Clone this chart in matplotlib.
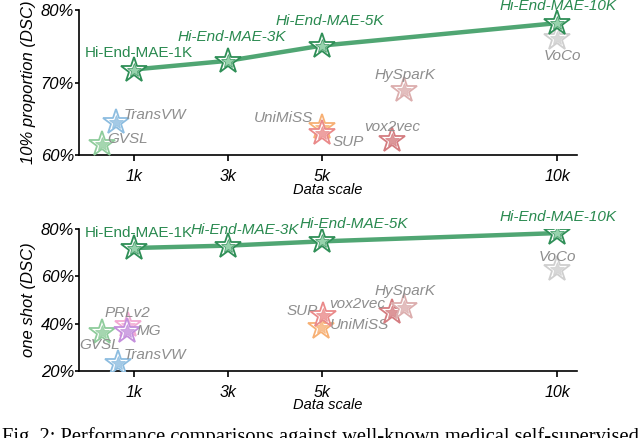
import matplotlib.pyplot as plt
from matplotlib.ticker import FuncFormatter

# Hi-End-MAE series (data scale in thousands)
ours_scale = [1, 3, 5, 10]
ours_names = ["Hi-End-MAE-1K", "Hi-End-MAE-3K", "Hi-End-MAE-5K", "Hi-End-MAE-10K"]
ours_top = [71.8, 73.0, 75.1, 78.2]
ours_bottom = [72.0, 73.0, 74.8, 78.3]

# baselines: name, scale, value
top_names = ["TransVW", "GVSL", "UniMiSS", "SUP", "vox2vec", "HySparK", "VoCo"]
top_scale = [0.62, 0.32, 5.0, 5.0, 6.5, 6.75, 10.0]
top_vals = [64.6, 61.5, 63.9, 63.0, 62.1, 69.0, 76.1]

bot_names = ["TransVW", "GVSL", "PRLv2", "MG", "UniMiSS", "SUP", "vox2vec", "HySparK", "VoCo"]
bot_scale = [0.66, 0.32, 0.87, 0.85, 4.98, 5.02, 6.5, 6.75, 10.0]
bot_vals = [23.5, 36.5, 39.5, 37.0, 38.7, 43.5, 45.0, 47.0, 63.1]

colors = {
    "TransVW": "#8dbde0", "GVSL": "#8fcc9c", "PRLv2": "#f2a9d2", "MG": "#c48fdc",
    "UniMiSS": "#f7b074", "SUP": "#ea8a8a", "vox2vec": "#d47c80",
    "HySparK": "#dcaeae", "VoCo": "#cfcfcf",
}

# label offsets (pixels) from each star
ours_off_top = [(5, 17), (4, 24), (8, 25), (1, 17)]
ours_off_bot = [(5, 15), (17, 16), (32, 17), (1, 16)]
top_off = {"TransVW": (39, 7), "GVSL": (26, 5), "UniMiSS": (-38, 9), "SUP": (26, -9),
           "vox2vec": (0, 13), "HySparK": (1, 15), "VoCo": (5, -18)}
bot_off = {"TransVW": (37, 8), "GVSL": (-2, -13), "PRLv2": (0, 12), "MG": (22, 0),
           "UniMiSS": (39, 2), "SUP": (-21, 4), "vox2vec": (-35, 8), "HySparK": (1, 16),
           "VoCo": (0, 12)}

plt.rcParams["font.family"] = ["Liberation Sans", "DejaVu Sans"]

GREEN = "#3d9c64"
GREEN_TXT = "#2a8a50"
GRAY_TXT = "#8e8e8e"

fig = plt.figure(figsize=(6.4, 4.38), dpi=100)
ax_top = fig.add_axes([0.123, 0.646, 0.779, 0.331])
ax_bot = fig.add_axes([0.123, 0.153, 0.779, 0.324])


def star(ax, x, y, color, edge, size=19, z=3):
    ax.plot(x, y, marker="*", ms=size, mfc="white", mec=edge, mew=1.3, ls="none", zorder=z)
    ax.plot(x, y, marker="*", ms=size * 0.55, mfc=color, mec=edge, mew=0.6, ls="none",
            alpha=0.8, zorder=z)


def draw(ax, ours_vals, ours_off, names, scales, vals, offsets, ylim, yticks, ylabel):
    ax.plot(ours_scale, ours_vals, color=GREEN, lw=3.2, alpha=0.9, zorder=2)
    for i, (x, y) in enumerate(zip(ours_scale, ours_vals)):
        star(ax, x, y, "#7cc797", "#2f8f57", z=4)
        ax.annotate(ours_names[i], (x, y), xytext=ours_off[i], textcoords="offset pixels",
                    ha="center", va="center", fontsize=11, color=GREEN_TXT,
                    style="normal" if i == 0 else "italic")
    for n, x, y in zip(names, scales, vals):
        c = colors[n]
        star(ax, x, y, c, c, z=3)
        ax.annotate(n, (x, y), xytext=offsets[n], textcoords="offset pixels",
                    ha="center", va="center", fontsize=11, color=GRAY_TXT, style="italic")

    ax.set_xlim(-0.17, 10.43)
    ax.set_ylim(*ylim)
    ax.set_xticks([1, 3, 5, 10])
    ax.set_xticklabels(["1k", "3k", "5k", "10k"], style="italic", fontsize=11.5)
    ax.set_yticks(yticks)
    ax.yaxis.set_major_formatter(FuncFormatter(lambda v, p: f"{v:.0f}%"))
    for t in ax.get_yticklabels():
        t.set_fontstyle("italic")
        t.set_fontsize(12)
    ax.spines["top"].set_visible(False)
    ax.spines["right"].set_visible(False)
    ax.spines["left"].set_linewidth(1.2)
    ax.spines["bottom"].set_linewidth(1.2)
    ax.tick_params(width=1.2, length=4, pad=6)
    ax.tick_params(axis="y", length=3, pad=0.5)
    ax.set_xlabel("Data scale", style="italic", fontsize=10.5, labelpad=-1)
    ax.set_ylabel(ylabel, style="italic", fontsize=12, labelpad=3)


draw(ax_top, ours_top, ours_off_top, top_names, top_scale, top_vals, top_off,
     (60, 80), [60, 70, 80], "10% proportion (DSC)")
draw(ax_bot, ours_bottom, ours_off_bot, bot_names, bot_scale, bot_vals, bot_off,
     (20, 80), [20, 40, 60, 80], "one shot (DSC)")

fig.text(0.003, 1 - 427 / 438, "Fig. 2: Performance comparisons against well-known medical self-supervised",
         family="Liberation Serif", fontsize=14.8, va="top", ha="left")

fig.savefig("out.png", dpi=100)
